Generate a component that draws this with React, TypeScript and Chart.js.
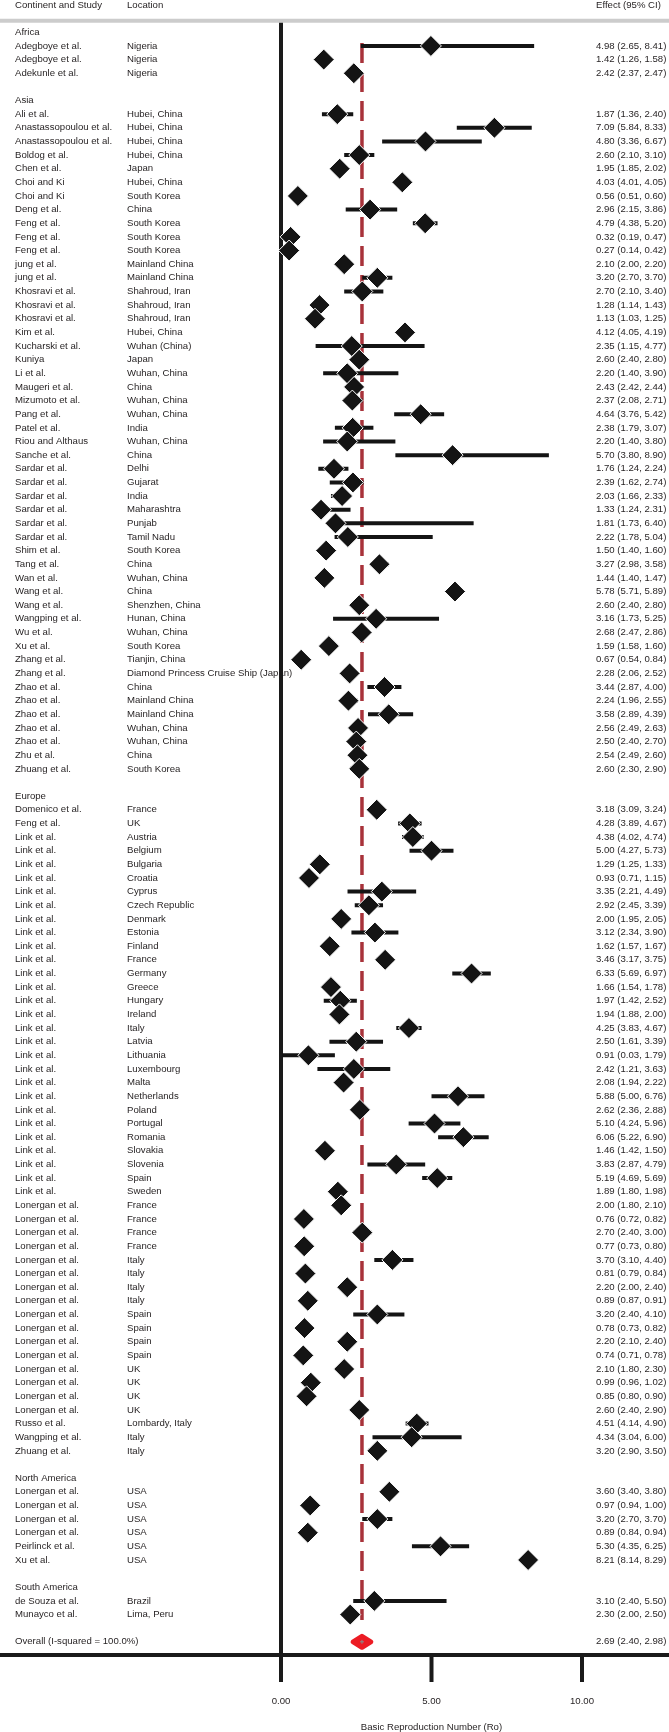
import React, { useEffect, useRef } from "react";
import { Chart, registerables } from "chart.js";

Chart.register(...registerables);

type Study = [string, string, number, number, number];

const columnHeaders = ["Continent and Study", "Location", "Effect (95% CI)"];
const continents = ["Africa", "Asia", "Europe", "North America", "South America"];

const africa: Study[] = [
  ["Adegboye et al.", "Nigeria", 4.98, 2.65, 8.41],
  ["Adegboye et al.", "Nigeria", 1.42, 1.26, 1.58],
  ["Adekunle et al.", "Nigeria", 2.42, 2.37, 2.47],
];

const asia: Study[] = [
  ["Ali et al.", "Hubei, China", 1.87, 1.36, 2.4],
  ["Anastassopoulou et al.", "Hubei, China", 7.09, 5.84, 8.33],
  ["Anastassopoulou et al.", "Hubei, China", 4.8, 3.36, 6.67],
  ["Boldog et al.", "Hubei, China", 2.6, 2.1, 3.1],
  ["Chen et al.", "Japan", 1.95, 1.85, 2.02],
  ["Choi and Ki", "Hubei, China", 4.03, 4.01, 4.05],
  ["Choi and Ki", "South Korea", 0.56, 0.51, 0.6],
  ["Deng et al.", "China", 2.96, 2.15, 3.86],
  ["Feng et al.", "South Korea", 4.79, 4.38, 5.2],
  ["Feng et al.", "South Korea", 0.32, 0.19, 0.47],
  ["Feng et al.", "South Korea", 0.27, 0.14, 0.42],
  ["jung et al.", "Mainland China", 2.1, 2.0, 2.2],
  ["jung et al.", "Mainland China", 3.2, 2.7, 3.7],
  ["Khosravi et al.", "Shahroud, Iran", 2.7, 2.1, 3.4],
  ["Khosravi et al.", "Shahroud, Iran", 1.28, 1.14, 1.43],
  ["Khosravi et al.", "Shahroud, Iran", 1.13, 1.03, 1.25],
  ["Kim et al.", "Hubei, China", 4.12, 4.05, 4.19],
  ["Kucharski et al.", "Wuhan (China)", 2.35, 1.15, 4.77],
  ["Kuniya", "Japan", 2.6, 2.4, 2.8],
  ["Li et al.", "Wuhan, China", 2.2, 1.4, 3.9],
  ["Maugeri et al.", "China", 2.43, 2.42, 2.44],
  ["Mizumoto et al.", "Wuhan, China", 2.37, 2.08, 2.71],
  ["Pang et al.", "Wuhan, China", 4.64, 3.76, 5.42],
  ["Patel et al.", "India", 2.38, 1.79, 3.07],
  ["Riou and Althaus", "Wuhan, China", 2.2, 1.4, 3.8],
  ["Sanche et al.", "China", 5.7, 3.8, 8.9],
  ["Sardar et al.", "Delhi", 1.76, 1.24, 2.24],
  ["Sardar et al.", "Gujarat", 2.39, 1.62, 2.74],
  ["Sardar et al.", "India", 2.03, 1.66, 2.33],
  ["Sardar et al.", "Maharashtra", 1.33, 1.24, 2.31],
  ["Sardar et al.", "Punjab", 1.81, 1.73, 6.4],
  ["Sardar et al.", "Tamil Nadu", 2.22, 1.78, 5.04],
  ["Shim et al.", "South Korea", 1.5, 1.4, 1.6],
  ["Tang et al.", "China", 3.27, 2.98, 3.58],
  ["Wan et al.", "Wuhan, China", 1.44, 1.4, 1.47],
  ["Wang et al.", "China", 5.78, 5.71, 5.89],
  ["Wang et al.", "Shenzhen, China", 2.6, 2.4, 2.8],
  ["Wangping et al.", "Hunan, China", 3.16, 1.73, 5.25],
  ["Wu et al.", "Wuhan, China", 2.68, 2.47, 2.86],
  ["Xu et al.", "South Korea", 1.59, 1.58, 1.6],
  ["Zhang et al.", "Tianjin, China", 0.67, 0.54, 0.84],
  ["Zhang et al.", "Diamond Princess Cruise Ship (Japan)", 2.28, 2.06, 2.52],
  ["Zhao et al.", "China", 3.44, 2.87, 4.0],
  ["Zhao et al.", "Mainland China", 2.24, 1.96, 2.55],
  ["Zhao et al.", "Mainland China", 3.58, 2.89, 4.39],
  ["Zhao et al.", "Wuhan, China", 2.56, 2.49, 2.63],
  ["Zhao et al.", "Wuhan, China", 2.5, 2.4, 2.7],
  ["Zhu et al.", "China", 2.54, 2.49, 2.6],
  ["Zhuang et al.", "South Korea", 2.6, 2.3, 2.9],
];

const europe: Study[] = [
  ["Domenico et al.", "France", 3.18, 3.09, 3.24],
  ["Feng et al.", "UK", 4.28, 3.89, 4.67],
  ["Link et al.", "Austria", 4.38, 4.02, 4.74],
  ["Link et al.", "Belgium", 5.0, 4.27, 5.73],
  ["Link et al.", "Bulgaria", 1.29, 1.25, 1.33],
  ["Link et al.", "Croatia", 0.93, 0.71, 1.15],
  ["Link et al.", "Cyprus", 3.35, 2.21, 4.49],
  ["Link et al.", "Czech Republic", 2.92, 2.45, 3.39],
  ["Link et al.", "Denmark", 2.0, 1.95, 2.05],
  ["Link et al.", "Estonia", 3.12, 2.34, 3.9],
  ["Link et al.", "Finland", 1.62, 1.57, 1.67],
  ["Link et al.", "France", 3.46, 3.17, 3.75],
  ["Link et al.", "Germany", 6.33, 5.69, 6.97],
  ["Link et al.", "Greece", 1.66, 1.54, 1.78],
  ["Link et al.", "Hungary", 1.97, 1.42, 2.52],
  ["Link et al.", "Ireland", 1.94, 1.88, 2.0],
  ["Link et al.", "Italy", 4.25, 3.83, 4.67],
  ["Link et al.", "Latvia", 2.5, 1.61, 3.39],
  ["Link et al.", "Lithuania", 0.91, 0.03, 1.79],
  ["Link et al.", "Luxembourg", 2.42, 1.21, 3.63],
  ["Link et al.", "Malta", 2.08, 1.94, 2.22],
  ["Link et al.", "Netherlands", 5.88, 5.0, 6.76],
  ["Link et al.", "Poland", 2.62, 2.36, 2.88],
  ["Link et al.", "Portugal", 5.1, 4.24, 5.96],
  ["Link et al.", "Romania", 6.06, 5.22, 6.9],
  ["Link et al.", "Slovakia", 1.46, 1.42, 1.5],
  ["Link et al.", "Slovenia", 3.83, 2.87, 4.79],
  ["Link et al.", "Spain", 5.19, 4.69, 5.69],
  ["Link et al.", "Sweden", 1.89, 1.8, 1.98],
  ["Lonergan et al.", "France", 2.0, 1.8, 2.1],
  ["Lonergan et al.", "France", 0.76, 0.72, 0.82],
  ["Lonergan et al.", "France", 2.7, 2.4, 3.0],
  ["Lonergan et al.", "France", 0.77, 0.73, 0.8],
  ["Lonergan et al.", "Italy", 3.7, 3.1, 4.4],
  ["Lonergan et al.", "Italy", 0.81, 0.79, 0.84],
  ["Lonergan et al.", "Italy", 2.2, 2.0, 2.4],
  ["Lonergan et al.", "Italy", 0.89, 0.87, 0.91],
  ["Lonergan et al.", "Spain", 3.2, 2.4, 4.1],
  ["Lonergan et al.", "Spain", 0.78, 0.73, 0.82],
  ["Lonergan et al.", "Spain", 2.2, 2.1, 2.4],
  ["Lonergan et al.", "Spain", 0.74, 0.71, 0.78],
  ["Lonergan et al.", "UK", 2.1, 1.8, 2.3],
  ["Lonergan et al.", "UK", 0.99, 0.96, 1.02],
  ["Lonergan et al.", "UK", 0.85, 0.8, 0.9],
  ["Lonergan et al.", "UK", 2.6, 2.4, 2.9],
  ["Russo et al.", "Lombardy, Italy", 4.51, 4.14, 4.9],
  ["Wangping et al.", "Italy", 4.34, 3.04, 6.0],
  ["Zhuang et al.", "Italy", 3.2, 2.9, 3.5],
];

const northAmerica: Study[] = [
  ["Lonergan et al.", "USA", 3.6, 3.4, 3.8],
  ["Lonergan et al.", "USA", 0.97, 0.94, 1.0],
  ["Lonergan et al.", "USA", 3.2, 2.7, 3.7],
  ["Lonergan et al.", "USA", 0.89, 0.84, 0.94],
  ["Peirlinck et al.", "USA", 5.3, 4.35, 6.25],
  ["Xu et al.", "USA", 8.21, 8.14, 8.29],
];

const southAmerica: Study[] = [
  ["de Souza et al.", "Brazil", 3.1, 2.4, 5.5],
  ["Munayco et al.", "Lima, Peru", 2.3, 2.0, 2.5],
];

const groups: Study[][] = [africa, asia, europe, northAmerica, southAmerica];

const overallLabel = "Overall (I-squared = 100.0%)";
const overallEffect = 2.69;
const overallLower = 2.4;
const overallUpper = 2.98;

const xTicks = [0, 5, 10];
const xTickLabels = ["0.00", "5.00", "10.00"];
const xTitle = "Basic Reproduction Number (Ro)";

// ---------- layout / style ----------
const W = 669;
const H = 1732;
const FONT = '9.6px "Liberation Sans", Arial, sans-serif';
const TEXT_COLOR = "#231f20";
const INK = "#1a1a1a";
const RED_LINE = "#a8323a";
const RED_FILL = "#ec1c24";
const COL_STUDY = 15;
const COL_LOC = 127;
const COL_EFFECT = 596;

type Row =
  | { kind: "header"; r: number; text: string }
  | { kind: "study"; r: number; s: Study }
  | { kind: "overall"; r: number };

const rows: Row[] = [];
{
  let r = 0;
  groups.forEach((g, gi) => {
    rows.push({ kind: "header", r, text: continents[gi] });
    r++;
    g.forEach((s) => {
      rows.push({ kind: "study", r, s });
      r++;
    });
    r++; // blank
  });
  rows.push({ kind: "overall", r });
}
const studyRows = rows.filter((x) => x.kind === "study") as { kind: "study"; r: number; s: Study }[];
const overallRow = rows[rows.length - 1].r;
const firstStudyRow = studyRows[0].r;
const lastStudyRow = studyRows[studyRows.length - 1].r;

const fmt = (s: Study) => `${s[2].toFixed(2)} (${s[3].toFixed(2)}, ${s[4].toFixed(2)})`;

const forestPlugin = {
  id: "forestDecor",
  beforeDatasetsDraw(chart: any) {
    const { ctx, scales, chartArea } = chart;
    const x = scales.x;
    const y = scales.y;
    ctx.save();
    ctx.font = FONT;
    ctx.fillStyle = TEXT_COLOR;
    ctx.textBaseline = "middle";
    ctx.textAlign = "left";

    // column headers
    const hy = y.getPixelForValue(-2);
    ctx.fillText(columnHeaders[0], COL_STUDY, hy);
    ctx.fillText(columnHeaders[1], COL_LOC, hy);
    ctx.fillText(columnHeaders[2], COL_EFFECT, hy);

    rows.forEach((row) => {
      const py = y.getPixelForValue(row.r);
      if (row.kind === "header") {
        ctx.fillText(row.text, COL_STUDY, py);
      } else if (row.kind === "study") {
        ctx.fillText(row.s[0], COL_STUDY, py);
        ctx.fillText(row.s[1], COL_LOC, py);
        ctx.fillText(fmt(row.s), COL_EFFECT, py);
      } else {
        ctx.fillText(overallLabel, COL_STUDY, py);
        ctx.fillText(
          `${overallEffect.toFixed(2)} (${overallLower.toFixed(2)}, ${overallUpper.toFixed(2)})`,
          COL_EFFECT,
          py
        );
      }
    });

    // gray header rule
    const ruleY = y.getPixelForValue(-0.855);
    ctx.strokeStyle = "#cccccc";
    ctx.lineWidth = 4;
    ctx.beginPath();
    ctx.moveTo(0, ruleY);
    ctx.lineTo(W, ruleY);
    ctx.stroke();

    // null line at 0
    const x0 = x.getPixelForValue(0);
    ctx.strokeStyle = INK;
    ctx.lineWidth = 4;
    ctx.beginPath();
    ctx.moveTo(x0, ruleY + 2);
    ctx.lineTo(x0, chartArea.bottom);
    ctx.stroke();

    // overall effect dashed line
    const xo = x.getPixelForValue(overallEffect);
    ctx.strokeStyle = RED_LINE;
    ctx.lineWidth = 3.5;
    ctx.setLineDash([20, 9]);
    ctx.beginPath();
    ctx.moveTo(xo, y.getPixelForValue(firstStudyRow - 0.22));
    ctx.lineTo(xo, y.getPixelForValue(lastStudyRow + 0.4));
    ctx.stroke();
    ctx.setLineDash([]);
    ctx.restore();
  },
  afterDatasetsDraw(chart: any) {
    const { ctx, scales, chartArea } = chart;
    const x = scales.x;
    const y = scales.y;
    ctx.save();

    // overall diamond
    const oy = y.getPixelForValue(overallRow);
    const xl = x.getPixelForValue(overallLower);
    const xr = x.getPixelForValue(overallUpper);
    const xc = x.getPixelForValue(overallEffect);
    const hh = 5.5;
    ctx.fillStyle = RED_FILL;
    ctx.strokeStyle = RED_FILL;
    ctx.lineWidth = 5;
    ctx.lineJoin = "round";
    ctx.beginPath();
    ctx.moveTo(xl, oy);
    ctx.lineTo(xc, oy - hh);
    ctx.lineTo(xr, oy);
    ctx.lineTo(xc, oy + hh);
    ctx.closePath();
    ctx.fill();
    ctx.stroke();
    ctx.strokeStyle = "#8a8a8a";
    ctx.lineWidth = 1;
    ctx.beginPath();
    ctx.moveTo(xc - 2, oy);
    ctx.lineTo(xc + 2, oy);
    ctx.moveTo(xc, oy - 2);
    ctx.lineTo(xc, oy + 2);
    ctx.stroke();

    // bottom axis
    const ay = chartArea.bottom;
    ctx.strokeStyle = INK;
    ctx.lineWidth = 4;
    ctx.beginPath();
    ctx.moveTo(0, ay);
    ctx.lineTo(W, ay);
    ctx.stroke();
    ctx.beginPath();
    xTicks.forEach((t) => {
      const tx = x.getPixelForValue(t);
      ctx.moveTo(tx, ay);
      ctx.lineTo(tx, ay + 27);
    });
    ctx.stroke();
    ctx.font = FONT;
    ctx.fillStyle = TEXT_COLOR;
    ctx.textAlign = "center";
    ctx.textBaseline = "middle";
    xTicks.forEach((t, i) => {
      ctx.fillText(xTickLabels[i], x.getPixelForValue(t), ay + 46);
    });
    ctx.fillText(xTitle, x.getPixelForValue(5), ay + 72);
    ctx.restore();
  },
};

export default function App() {
  const ref = useRef<HTMLCanvasElement | null>(null);

  useEffect(() => {
    document.body.style.margin = "0";
    const canvas = ref.current;
    if (!canvas) return;

    const ciData: any[] = [];
    studyRows.forEach((row) => {
      ciData.push({ x: row.s[3], y: row.r });
      ciData.push({ x: row.s[4], y: row.r });
      ciData.push({ x: row.s[4], y: null });
    });
    const pointData = studyRows.map((row) => ({ x: row.s[2], y: row.r }));

    // scale ranges chosen so that 0 -> x=281, 10 -> x=582 and row 0 -> y=32.3 (13.64 px per row)
    const pxPerUnit = 30.1;
    const x0px = 281;
    const rowTop = 32.3;
    const rowPitch = 13.64;
    const axisY = 1655;

    const chart = new Chart(canvas, {
      type: "scatter",
      data: {
        datasets: [
          {
            type: "scatter",
            data: pointData,
            pointStyle: "rectRot",
            pointRadius: 10.5,
            pointHoverRadius: 10.5,
            backgroundColor: "#141414",
            borderColor: "#ffffff",
            borderWidth: 1,
            order: 0,
            clip: false,
          } as any,
          {
            type: "line",
            data: ciData,
            borderColor: "#141414",
            borderWidth: 4,
            borderCapStyle: "butt",
            pointRadius: 0,
            pointHoverRadius: 0,
            showLine: true,
            spanGaps: false,
            fill: false,
            order: 1,
            clip: false,
          } as any,
        ],
      },
      options: {
        responsive: false,
        animation: false,
        devicePixelRatio: 1,
        events: [],
        layout: { autoPadding: false, padding: { left: 0, right: 0, top: 0, bottom: H - axisY } },
        plugins: { legend: { display: false }, tooltip: { enabled: false } },
        scales: {
          x: {
            type: "linear",
            display: false,
            min: -x0px / pxPerUnit,
            max: (W - x0px) / pxPerUnit,
          },
          y: {
            type: "linear",
            display: false,
            reverse: true,
            min: -rowTop / rowPitch,
            max: (axisY - rowTop) / rowPitch,
          },
        },
      },
      plugins: [forestPlugin],
    } as any);

    return () => chart.destroy();
  }, []);

  return (
    <div style={{ width: W, height: H, background: "#fff" }}>
      <canvas ref={ref} width={W} height={H} style={{ display: "block", width: W, height: H }} />
    </div>
  );
}
